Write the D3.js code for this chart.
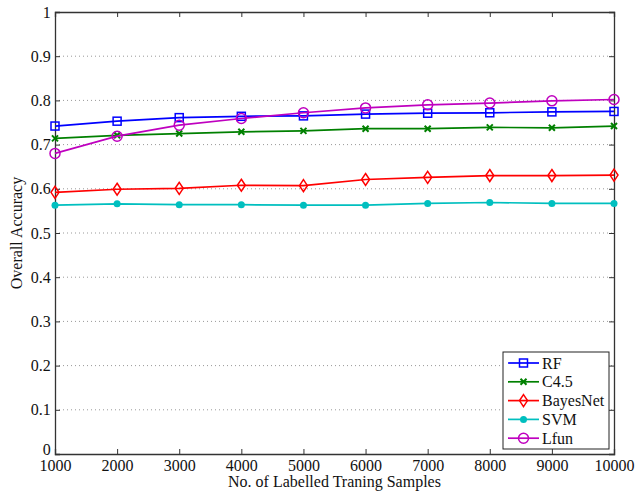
<!DOCTYPE html>
<html>
<head>
<meta charset="utf-8">
<script src="https://cdn.jsdelivr.net/npm/d3@7"></script>
<style>
  body { margin: 0; background: #fff; }
  text { font-family: "Liberation Serif", "DejaVu Serif", serif; }
</style>
</head>
<body>
<div id="chart"></div>
<script>
const samples = [1000, 2000, 3000, 4000, 5000, 6000, 7000, 8000, 9000, 10000];
const rf = [0.742, 0.753, 0.761, 0.764, 0.765, 0.769, 0.771, 0.772, 0.774, 0.775];
const c45 = [0.714, 0.721, 0.725, 0.729, 0.731, 0.736, 0.736, 0.739, 0.738, 0.742];
const bayesNet = [0.592, 0.599, 0.601, 0.608, 0.607, 0.621, 0.626, 0.630, 0.630, 0.631];
const svm = [0.563, 0.566, 0.564, 0.564, 0.563, 0.563, 0.567, 0.569, 0.567, 0.567];
const lfun = [0.680, 0.719, 0.744, 0.759, 0.772, 0.783, 0.790, 0.794, 0.799, 0.802];
const yTicks = [0, 0.1, 0.2, 0.3, 0.4, 0.5, 0.6, 0.7, 0.8, 0.9, 1];

const series = [
  { name: "RF", values: rf, color: "#0000ff", marker: "square" },
  { name: "C4.5", values: c45, color: "#008000", marker: "cross" },
  { name: "BayesNet", values: bayesNet, color: "#ff0000", marker: "diamond" },
  { name: "SVM", values: svm, color: "#00bfbf", marker: "dot" },
  { name: "Lfun", values: lfun, color: "#bf00bf", marker: "circle" }
];

const width = 635, height = 496;
const margin = { top: 12, right: 21, bottom: 42, left: 55 };
const w = width - margin.left - margin.right;
const h = height - margin.top - margin.bottom;

const svg = d3.select("#chart").append("svg")
  .attr("width", width).attr("height", height);
const g = svg.append("g").attr("transform", `translate(${margin.left},${margin.top})`);

const x = d3.scaleLinear().domain([1000, 10000]).range([0, w]);
const y = d3.scaleLinear().domain([0, 1]).range([h, 0]);

// dotted grid
g.selectAll(".grid").data(yTicks.slice(1, -1)).enter().append("line")
  .attr("x1", 0).attr("x2", w)
  .attr("y1", d => y(d)).attr("y2", d => y(d))
  .attr("stroke", "#999").attr("stroke-width", 1)
  .attr("stroke-dasharray", "1,3");

// axes, ticks inward on all sides
const tick = 5;
const axisColor = "#333";
const xAx = g.append("g").attr("transform", `translate(0,${h})`)
  .call(d3.axisBottom(x).tickValues(samples).tickSize(-tick).tickPadding(6).tickFormat(d3.format("d")));
const yAx = g.append("g")
  .call(d3.axisLeft(y).tickValues(yTicks).tickSize(-tick).tickPadding(tick + 4).tickFormat(d => d));
const xTop = g.append("g")
  .call(d3.axisTop(x).tickValues(samples).tickSize(-tick).tickFormat(""));
const yRight = g.append("g").attr("transform", `translate(${w},0)`)
  .call(d3.axisRight(y).tickValues(yTicks).tickSize(-tick).tickFormat(""));
[xAx, yAx, xTop, yRight].forEach(a => {
  a.selectAll("path").attr("stroke", axisColor).attr("stroke-width", 1.3);
  a.selectAll("line").attr("stroke", axisColor);
  a.selectAll("text").attr("fill", "#111").style("font-size", "16px")
    .style("font-family", "'Liberation Serif', serif");
});
xAx.selectAll("text").attr("dy", "0.68em");
yAx.selectAll("text").attr("dx", "0.3em");
yAx.selectAll(".tick").filter(d => d === 0).select("text").attr("dy", "0.05em");

// marker drawing
function drawMarker(sel, type, color) {
  if (type === "square") {
    sel.append("rect").attr("x", -4).attr("y", -4).attr("width", 8).attr("height", 8)
      .attr("fill", "none").attr("stroke", color).attr("stroke-width", 1.5);
  } else if (type === "cross") {
    sel.append("path").attr("d", "M-3,-3L3,3M-3,3L3,-3")
      .attr("stroke", color).attr("stroke-width", 2);
  } else if (type === "diamond") {
    sel.append("path").attr("d", "M0,-6L4,0L0,6L-4,0Z")
      .attr("fill", "none").attr("stroke", color).attr("stroke-width", 1.5);
  } else if (type === "dot") {
    sel.append("circle").attr("r", 3.5).attr("fill", color);
  } else if (type === "circle") {
    sel.append("circle").attr("r", 5).attr("fill", "none")
      .attr("stroke", color).attr("stroke-width", 1.5);
  }
}

const line = d3.line().x((d, i) => x(samples[i])).y(d => y(d));

series.forEach(s => {
  g.append("path").datum(s.values)
    .attr("d", line).attr("fill", "none")
    .attr("stroke", s.color).attr("stroke-width", 1.7);
  s.values.forEach((v, i) => {
    const m = g.append("g").attr("transform", `translate(${x(samples[i])},${y(v)})`);
    drawMarker(m, s.marker, s.color);
  });
});

// legend
const legend = g.append("g").attr("transform", `translate(${w - 111},${h - 102})`);
legend.append("rect").attr("width", 106).attr("height", 97)
  .attr("fill", "#fff").attr("stroke", "#222").attr("stroke-width", 1);
series.forEach((s, i) => {
  const row = legend.append("g").attr("transform", `translate(0,${11 + i * 18.8})`);
  row.append("line").attr("x1", 5).attr("x2", 36).attr("y1", 0).attr("y2", 0)
    .attr("stroke", s.color).attr("stroke-width", 1.7);
  drawMarker(row.append("g").attr("transform", "translate(20.5,0)"), s.marker, s.color);
  row.append("text").attr("x", 39).attr("y", 0).attr("dy", "0.35em")
    .style("font-size", "16px").attr("fill", "#111").text(s.name);
});

// axis titles
svg.append("text").attr("x", margin.left + w / 2).attr("y", height - 9)
  .attr("text-anchor", "middle").style("font-size", "16px").attr("fill", "#111")
  .text("No. of Labelled Traning Samples");
svg.append("text").attr("transform", `translate(22,${margin.top + h / 2}) rotate(-90)`)
  .attr("text-anchor", "middle").style("font-size", "16px").attr("fill", "#111")
  .text("Overall Accuracy");
</script>
</body>
</html>
